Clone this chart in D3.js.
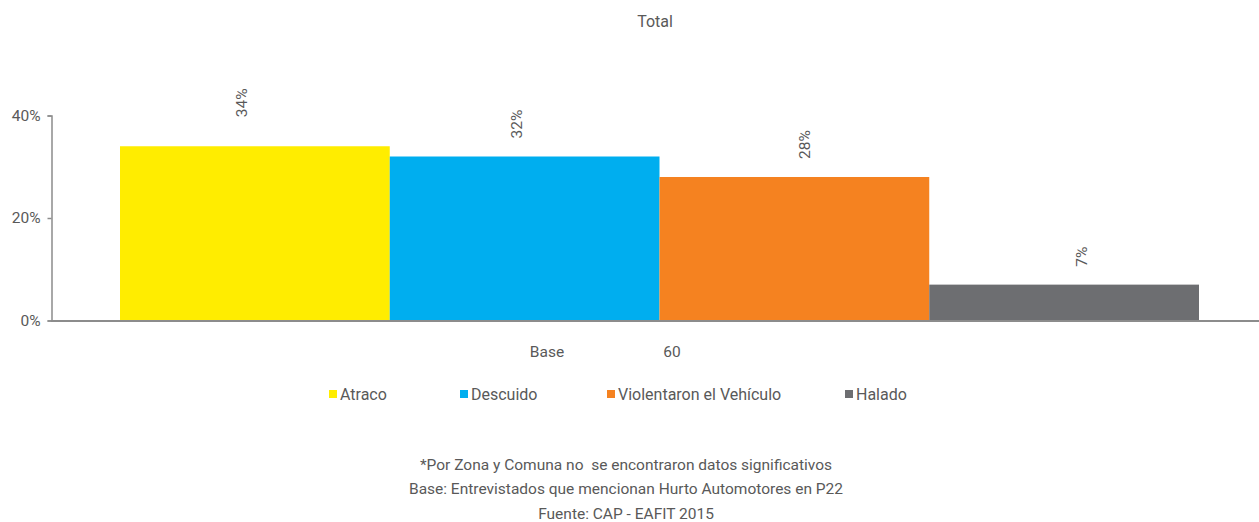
<!DOCTYPE html>
<html>
<head>
<meta charset="utf-8">
<script src="https://cdn.jsdelivr.net/npm/d3@7"></script>
<style>
  html, body { margin: 0; padding: 0; background: #fff; }
  svg { display: block; font-family: Roboto, "Open Sans", sans-serif; }
  text { white-space: pre; }
</style>
</head>
<body>
<svg id="chart" width="1259" height="522"></svg>
<script>
// Chart data
const series = ["Atraco", "Descuido", "Violentaron el Vehículo", "Halado"];
const values = [34, 32, 28, 7];
const colors = ["#FFED00", "#00AEEF", "#F58220", "#6D6E71"];
const yTicks = [0, 20, 40];
const baseLabel = "Base";
const baseValue = 60;
const chartTitle = "Total";
const notes = [
  "*Por Zona y Comuna no  se encontraron datos significativos",
  "Base: Entrevistados que mencionan Hurto Automotores en P22",
  "Fuente: CAP - EAFIT 2015"
];
// small horizontal shifts of the rotated value labels
const labelShift = [-13, -8, 10, 17];

const textColor = "#595959";
const axisColor = "#8c8c8c";

const svg = d3.select("#chart");

const y = d3.scaleLinear().domain([0, 40]).range([320.5, 115.5]);
const x = d3.scaleBand().domain(series).range([120, 1199]).padding(0);

// Title
svg.append("text")
  .attr("x", 655).attr("y", 27)
  .attr("text-anchor", "middle")
  .attr("font-size", 16).attr("fill", textColor)
  .text(chartTitle);

// Y axis
const yAxis = svg.append("g")
  .attr("transform", "translate(51.5,0)")
  .call(d3.axisLeft(y).tickValues(yTicks).tickFormat(d => d + "%").tickSize(4).tickPadding(7));
yAxis.select(".domain").attr("stroke", axisColor).attr("stroke-width", 1.5);
yAxis.selectAll(".tick line").attr("stroke", axisColor).attr("stroke-width", 1.5);
yAxis.selectAll(".tick text").attr("fill", textColor).attr("font-size", 15.5)
  .attr("font-family", "Roboto, 'Open Sans', sans-serif");

// Bars
svg.append("g").selectAll("rect")
  .data(series)
  .join("rect")
  .attr("x", d => x(d))
  .attr("width", x.bandwidth())
  .attr("y", (d, i) => y(values[i]))
  .attr("height", (d, i) => y(0) - y(values[i]))
  .attr("fill", (d, i) => colors[i]);

// X axis baseline
svg.append("line")
  .attr("x1", 51).attr("x2", 1259)
  .attr("y1", y(0) + 0.5).attr("y2", y(0) + 0.5)
  .attr("stroke", axisColor).attr("stroke-width", 2);

// Rotated value labels
svg.append("g").selectAll("text")
  .data(series)
  .join("text")
  .attr("transform", (d, i) => {
    const cx = x(d) + x.bandwidth() / 2 + labelShift[i];
    const top = y(values[i]) - (i === 0 ? 29 : 18);
    return `translate(${cx + 5.5},${top}) rotate(-90)`;
  })
  .attr("text-anchor", "start")
  .attr("font-size", 15.5).attr("fill", textColor)
  .text((d, i) => d3.format(".0f")(values[i]) + "%");

// Base row
svg.append("text")
  .attr("x", 547).attr("y", 357).attr("text-anchor", "middle")
  .attr("font-size", 15.5).attr("fill", textColor).text(baseLabel);
svg.append("text")
  .attr("x", 672).attr("y", 357).attr("text-anchor", "middle")
  .attr("font-size", 15.5).attr("fill", textColor).text(baseValue);

// Legend
const legendX = [329, 460, 607, 845];
const legend = svg.append("g").selectAll("g")
  .data(series)
  .join("g")
  .attr("transform", (d, i) => `translate(${legendX[i]},390)`);
legend.append("rect")
  .attr("width", 8).attr("height", 8)
  .attr("fill", (d, i) => colors[i]);
legend.append("text")
  .attr("x", 11).attr("y", 9.5)
  .attr("font-size", 16).attr("fill", textColor)
  .text(d => d);

// Footnotes
svg.append("g").selectAll("text")
  .data(notes)
  .join("text")
  .attr("x", 626)
  .attr("y", (d, i) => 469.5 + i * 24.5)
  .attr("text-anchor", "middle")
  .attr("font-size", 15.5).attr("fill", textColor)
  .text(d => d);
</script>
</body>
</html>
